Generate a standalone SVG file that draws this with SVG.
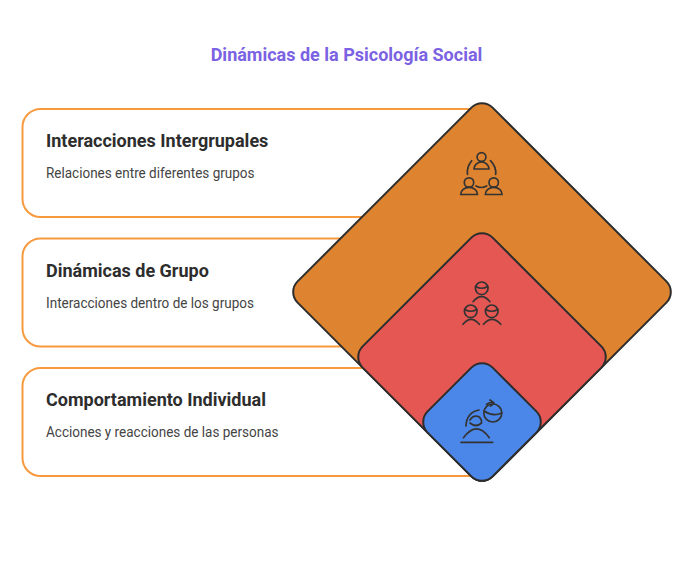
<svg xmlns="http://www.w3.org/2000/svg" width="695" height="575" viewBox="0 0 695 575">
<style>
.card{fill:#fff;stroke:#f79a3e;stroke-width:2}
.dia{stroke:#2d2d2d;stroke-width:2}
.ic{fill:none;stroke:#333;stroke-width:1.7;stroke-linecap:round;stroke-linejoin:round}
.t{font-family:Roboto,"Liberation Sans",sans-serif}
.h{font-size:18px;font-weight:700;fill:#2d2d2d}
.d{font-size:14px;fill:#444}
</style>
<rect width="695" height="575" fill="#fff"/>
<text class="t" x="346.500" y="61" text-anchor="middle" font-size="18" font-weight="700" fill="#7b62e3">Dinámicas de la Psicología Social</text>
<g id="card-1"><rect class="card" x="22.500" y="109" width="470" height="108" rx="18"/></g>
<g id="card-2"><rect class="card" x="22.500" y="238.500" width="470" height="108" rx="18"/></g>
<g id="card-3"><rect class="card" x="22.500" y="368" width="470" height="108" rx="18"/></g>
<g id="diamond-orange"><rect class="dia" fill="#de8431" x="-137.900" y="-137.900" width="275.800" height="275.800" rx="15" transform="translate(482 292) rotate(45)"/>
<g class="ic"><circle cx="481.500" cy="157" r="4.400"/><path d="M474 169a7.500 7 0 0 1 15 0z"/><circle cx="469" cy="182.500" r="4.700"/><path d="M460.700 194.500a8.400 7.200 0 0 1 16.800 0z"/><circle cx="493.700" cy="182.500" r="4.700"/><path d="M485.300 194.500a8.400 7.200 0 0 1 16.800 0z"/><path d="M471.700 160.700Q466.500 167 467.500 174.300M490.500 160.700Q496.500 167 495.700 174.300M476 186Q481.300 189 486.700 186"/></g></g>
<g id="diamond-red"><rect class="dia" fill="#e55753" x="-91.900" y="-91.900" width="183.800" height="183.800" rx="15" transform="translate(482 357) rotate(45)"/>
<g class="ic"><circle cx="481.700" cy="288.300" r="6.300"/><path d="M475.800 286.500Q481.700 290 487.600 286.500M473 301.700Q481.500 291.500 490 301.700"/><circle cx="470.700" cy="311.300" r="6.300"/><path d="M464.800 309.500Q470.700 313 476.600 309.500M463 324.300Q471 314.500 479.300 324.300"/><circle cx="491.700" cy="311.300" r="6.300"/><path d="M485.800 309.500Q491.700 313 497.600 309.500M483.500 324.300Q492 314.500 500.800 324.300"/></g></g>
<g id="diamond-blue"><rect class="dia" fill="#4b87e8" x="-45.950" y="-45.950" width="91.900" height="91.900" rx="15" transform="translate(482 422) rotate(45)"/>
<g class="ic"><path d="M461 442.300H492.700M463.500 437.700Q476.500 420 489.300 437.700"/><circle cx="492.800" cy="413" r="9"/><path d="M484 411Q493 417 501.700 413M486.500 404.500Q490 401.500 494 403M490 400L494 403L490.500 406"/><path d="M466 426Q466.500 412.500 479 410M470 420Q473 415 478.500 416.500Q482 419 481.500 423M470 423Q476 428 481.500 423"/></g></g>
<text class="t h" x="46" y="147">Interacciones Intergrupales</text>
<text class="t d" x="46" y="178" textLength="208.500" lengthAdjust="spacingAndGlyphs">Relaciones entre diferentes grupos</text>
<text class="t h" x="46" y="276.500">Dinámicas de Grupo</text>
<text class="t d" x="46" y="308" textLength="208" lengthAdjust="spacingAndGlyphs">Interacciones dentro de los grupos</text>
<text class="t h" x="46" y="405.500">Comportamiento Individual</text>
<text class="t d" x="46" y="437" textLength="232.500" lengthAdjust="spacingAndGlyphs">Acciones y reacciones de las personas</text>
</svg>
